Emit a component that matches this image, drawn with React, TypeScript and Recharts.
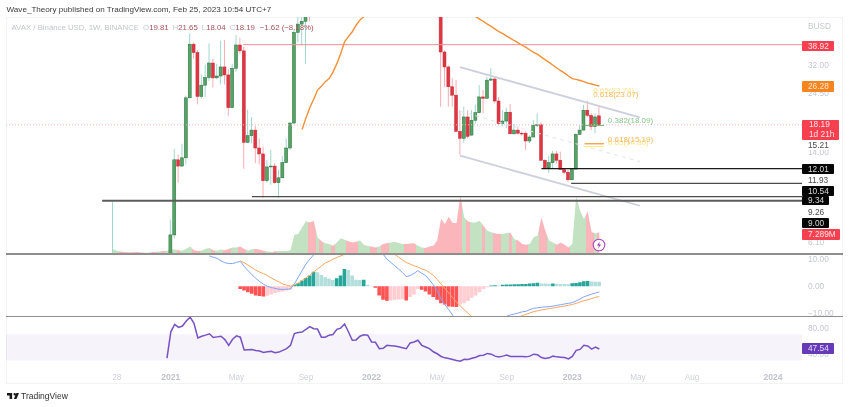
import {
  Area,
  Bar,
  Cell,
  ComposedChart,
  Line,
  ReferenceArea,
  ReferenceDot,
  ReferenceLine,
  XAxis,
  YAxis,
} from 'recharts';

// weekly candles, week 0 = Sep 21 2020, week 126 = Feb 20 2023
const opens = [
  3.9, 4.4, 4.6, 4.5, 4.2, 3.9, 3.6, 3.4, 3.3, 3.2,
  3.7, 3.6, 3.5, 4, 3.6, 3.6, 6.4, 13.05, 12.3, 13.3,
  23.5, 39.1, 36.1, 23.8, 26.5, 28.5, 32.7, 28.4, 28.9, 31.5,
  29.2, 21.4, 31.1, 38.8, 36.7, 15.4, 16.4, 17.3, 14.6, 13.8,
  10.7, 12.2, 12.3, 10.5, 11, 12.7, 14.6, 18.5, 43.7, 47.3,
  48.6, 62, 57, 55, 56, 54, 58, 62, 60, 66,
  72, 78, 74, 70, 66, 72, 80, 90, 85, 78,
  84, 76, 70, 74, 78, 84, 92, 84, 76, 70,
  75, 80, 77, 73, 70, 66, 36.3, 31.5, 26.1, 24.1,
  17.1, 16, 19.6, 16.5, 19, 20.4, 23.7, 23.4, 27.8, 28.1,
  22.8, 18.4, 18.85, 20.5, 16.7, 17.3, 16.8, 16.8, 15.6, 16.2,
  18.1, 18.2, 13, 12.1, 12.7, 13.8, 13, 11.9, 11.6, 10.8,
  11.95, 16.6, 17.3, 20.9, 19.9, 17.9, 19.81,
];
const highs = [
  8.75, 5, 5.1, 5, 4.6, 4.2, 3.9, 3.7, 3.6, 3.9,
  4.2, 3.9, 4.2, 4.5, 4, 7.4, 14.5, 13.7, 15.2, 24,
  43.3, 39.6, 37, 29.3, 32.2, 39.4, 34, 32.5, 40.4, 40.6,
  30.8, 32.5, 42.6, 41.5, 38.1, 21, 19.6, 18, 16, 14.8,
  13, 14.35, 12.65, 11.9, 13.5, 16, 18.6, 45, 55, 52,
  75, 70, 62, 60, 60, 63, 67, 66, 71, 78,
  84, 82, 78, 73, 76, 84, 95, 94, 88, 88,
  88, 80, 78, 82, 88, 98, 96, 88, 78, 80,
  85, 84, 80, 76, 72, 70, 36.9, 32, 28.3, 27.8,
  20.9, 21.6, 20.9, 20.9, 22, 26.5, 25.3, 28.7, 31.1, 28.7,
  23.7, 20.9, 21.4, 22.2, 18.4, 17.9, 17.1, 17.1, 16.5, 19,
  20.3, 18.6, 13.1, 13.5, 14.2, 14.2, 14.1, 12.1, 11.9, 12,
  16.8, 18.1, 22, 22.9, 20.3, 20.3, 21.65,
];
const lows = [
  3, 3.9, 4.1, 4, 3.6, 3.4, 3.2, 3.1, 3, 3,
  3.4, 3.2, 3.3, 3.5, 3.3, 3.4, 6.2, 10.5, 12.2, 12.5,
  23.4, 34, 22.1, 23.3, 23.7, 27.6, 25.9, 28.2, 26.7, 26.7,
  19.8, 21.4, 30, 35.7, 12, 15.3, 15.3, 12.65, 12.5, 9.1,
  10.5, 10.3, 10.4, 9.1, 11, 12.65, 14.35, 18.4, 39.8, 38.6,
  32.5, 48.6, 53, 52, 53, 53, 56, 57, 58, 64,
  70, 72, 68, 64, 64, 71, 78, 82, 76, 76,
  74, 68, 68, 72, 77, 82, 82, 74, 68, 68,
  74, 75, 71, 68, 60, 21.6, 26.1, 21.6, 21.6, 17,
  13.7, 15.3, 16, 16.4, 18.4, 20.3, 20.3, 23.3, 27.6, 22.3,
  18.2, 18, 17.6, 16.7, 16.6, 16.6, 16.4, 14.35, 15.3, 16.2,
  17.8, 12.95, 11.9, 11.5, 12.05, 12.6, 11.9, 11.4, 10.55, 10.75,
  11.9, 16.6, 17.3, 19.6, 17.3, 16.8, 18.04,
];
const closes = [
  4.4, 4.6, 4.5, 4.2, 3.9, 3.6, 3.4, 3.3, 3.2, 3.7,
  3.6, 3.5, 4, 3.6, 3.6, 6.4, 13.05, 12.3, 13.3, 23.5,
  39.1, 36.1, 23.8, 26.5, 28.5, 32.7, 28.4, 28.9, 31.5, 29.2,
  21.4, 31.1, 38.8, 36.7, 15.4, 16.4, 17.3, 14.6, 13.8, 10.7,
  12.2, 12.3, 10.5, 11, 12.7, 14.6, 18.5, 43.7, 47.3, 48.6,
  62, 57, 55, 56, 54, 58, 62, 60, 66, 72,
  78, 74, 70, 66, 72, 80, 90, 85, 78, 84,
  76, 70, 74, 78, 84, 92, 84, 76, 70, 75,
  80, 77, 73, 70, 66, 36.3, 31.5, 26.1, 24.1, 17.1,
  16, 19.6, 16.3, 19, 20.4, 23.7, 23.4, 27.8, 28.1, 22.8,
  18.4, 18.85, 20.5, 16.7, 17.3, 16.8, 16.7, 15.6, 16.2, 18.1,
  18.2, 13, 12.1, 12.7, 13.8, 13, 11.9, 11.6, 10.8, 11.95,
  16.6, 17.3, 20.9, 19.9, 17.9, 19.6, 18.19,
];
// volume in millions
const volumes = [
  1.7, 1.1, 0.8, 0.7, 0.6, 0.6, 0.7, 0.6, 0.45, 0.45,
  0.6, 0.7, 0.8, 1, 1.1, 1.6, 1.5, 1.3, 1.1, 1.8,
  2.5, 1.3, 1, 1.2, 1.8, 2, 1.3, 1.1, 1.5, 1.3,
  1.7, 2.2, 2.2, 2.5, 1.7, 1.2, 1.6, 1.7, 1.5, 1.1,
  0.8, 0.7, 0.8, 1, 1, 1, 1.3, 6.5, 6.7, 9,
  11, 10.6, 11.2, 5.6, 4.3, 3.6, 3.4, 2.8, 3.9, 5.3,
  4.8, 4.3, 3.9, 4.1, 4.5, 3.1, 2.7, 2.5, 2.2, 2.5,
  3.4, 3.7, 3.9, 4.1, 3.7, 3.4, 3.4, 3.5, 3.6, 2.8,
  2.2, 2, 2.5, 2.8, 4.5, 11.8, 10.1, 12.5, 10.4, 10.4,
  19.6, 12.3, 10.9, 10.6, 10.6, 11.2, 9.5, 7.8, 7.3, 6.9,
  6.7, 6.7, 7.1, 7.1, 5, 4.5, 3.4, 3.1, 3.4, 5.6,
  6.2, 12.3, 7.8, 4.5, 3.9, 3.1, 3.9, 3.1, 2.2, 3.4,
  19.3, 14.6, 11.8, 14.3, 7.3, 6.9, 7.289,
];

const emaStart = 49;
const ema = [
  17.4, 19.4, 21.4, 23.2, 25.3, 26.2, 27.4, 28.2, 30, 32.5,
  35.7, 40, 42, 44, 46.8, 49.2, 50.8, 53, 55, 57,
  58.5, 60, 61, 62, 63, 64, 65, 65.5, 66, 66,
  66, 65.5, 65, 64.5, 64, 63.5, 63, 62, 61, 60,
  59, 58, 56, 54, 52.5, 50.8, 49.6, 48.5, 47.3, 46.3,
  45.1, 44, 43.2, 42.2, 41.3, 40.4, 39.6, 38.7, 37.9, 37,
  36.2, 35.5, 34.6, 33.7, 32.9, 32, 31.2, 30.4, 29.7, 28.9,
  28.2, 28, 27.7, 27.4, 27, 26.8, 26.5, 26.28,
];

const macdStart = 25;
const macdLine = [
  11.1, 10.6, 10.2, 9.3, 8.6, 8.3, 8.3, 8.7, 9.1, 7.3,
  5.7, 4.2, 2.9, 1.7, 0.7, 0, -0.5, -0.8, -1.1, -1.2,
  -1.1, -1, 0.8, 3.3, 5.7, 8.1, 9.9, 11.5, 13.2, 14.8,
  16.6, 17.8, 19, 20.2, 21.4, 22, 22.6, 22.6, 22, 21.4,
  20.2, 19, 17.8, 16, 14.2, 11.7, 9.9, 8.7, 7.5, 6.3,
  5, 3.5, 3.9, 4.7, 5.7, 4.7, 3.9, 2.3, 0.5, -1.6,
  -4.7, -6.8, -8.6, -10.6, -12.7, -14.3, -16.1, -17.5, -18.5, -19.1,
  -19.1, -18.5, -17.3, -16.1, -14.9, -12.7, -11.9, -11, -10.5, -10.2,
  -9.8, -9.4, -9.2, -8.6, -8.1, -7.9, -7.7, -7.6, -7.5, -7.3,
  -7, -6.8, -6.5, -6.3, -6, -5.4, -4.7, -3.9, -3.4, -2.9,
  -2.5, -2.1,
];
const signalStart = 33;
const signalLine = [
  9.3, 8.6, 7.7, 6.8, 5.9, 5.2, 4.6, 3.9, 3, 2.3,
  1.6, 0.8, 0.4, 0, 0.5, 1.2, 2.1, 3, 4, 5.2,
  6.3, 7.4, 8.5, 9.1, 9.9, 10.5, 11.1, 11.7, 12.3, 12.9,
  13.6, 14.2, 14.4, 14.8, 14.8, 14.4, 14.2, 13.6, 12.9, 12.3,
  11.7, 10.6, 9.6, 8.7, 8.1, 7.5, 7, 6.3, 5.9, 5,
  4, 2.5, 0.8, -0.8, -2.5, -4.2, -5.8, -7.3, -8.6, -9.9,
  -11.3, -12.5, -13.4, -14.3, -14.6, -14.9, -14.9, -14.6, -14.3, -13.7,
  -12.8, -12.1, -11.4, -10.8, -10.3, -9.8, -9.3, -9, -8.7, -8.5,
  -8.2, -8, -7.7, -7.5, -7.3, -7, -6.7, -6.3, -5.8, -5.3,
  -5, -4.5, -4.1, -3.8,
];
const histStart = 33;
const macdHist = [
  -1, -1.6, -2.2, -2.8, -3.4, -3.6, -3.75, -3.5, -3, -2.5,
  -2.2, -1.9, -1.6, -1.2, 0.5, 1.1, 2.1, 3, 3.9, 5.3,
  5.1, 4.1, 3.3, 2.8, 2.3, 2.9, 3.9, 6.3, 5.9, 3.9,
  2.4, 2.3, 2.4, 0.5, 0.1, -0.6, -3.4, -5, -5.3, -5.2,
  -5, -4.9, -4.8, -5.2, -4, -3, -0.9, -1.3, -1.9, -3,
  -4, -5, -6.2, -6.7, -7.4, -7.5, -7.6, -6.7, -6.2, -5.4,
  -4.2, -3.4, -2.2, -1, -0.4, 0.25, 0.35, 0.3, 0.5, 0.6,
  0.65, 0.7, 0.75, 0.8, 0.85, 1, 1.1, 1.3, 1, 0.95,
  0.9, 0.95, 0.9, 0.85, 0.8, 0.7, 1.1, 1.2, 1.45, 1.8,
  1.9, 1.7, 1.65, 1.6,
];

const rsiStart = 14;
const rsi = [
  33.6, 73.6, 84.9, 80.3, 82.3, 90, 95.7, 86.4, 64.4, 66.9,
  68.5, 70.5, 64.9, 65.9, 66.9, 61.8, 53.1, 62.3, 67.4, 65.4,
  45.9, 46.4, 46.9, 45.4, 44.4, 42.3, 43.3, 43.9, 41.8, 42.8,
  45.4, 48, 53.1, 71, 72.6, 73.1, 77.2, 81.3, 78.2, 77.7,
  65.4, 65.4, 68.5, 69.5, 77.2, 79.2, 85.4, 73.6, 60.8, 61.3,
  66.9, 69, 68.5, 58.2, 57.7, 48, 48.5, 53.1, 52.6, 52.1,
  51, 49.5, 48, 56.7, 58.2, 60.8, 53.1, 50.5, 48, 43.3,
  40.3, 36.2, 34.1, 33.1, 31.5, 30, 29, 32, 31.5, 33.6,
  35.1, 37.7, 38.2, 40.8, 39.7, 36.7, 35.6, 36.7, 38.2, 36.2,
  36.2, 36.2, 36.2, 35.6, 36.7, 39.7, 38.7, 34.6, 33.1, 34.1,
  36.7, 35.6, 35.1, 34.6, 32.6, 36.2, 45.4, 46.9, 53.1, 52.1,
  47.4, 50.5, 47.54,
];

// time axis
const timeTicks = [1, 15, 32, 50, 67, 84, 102, 119, 136, 150, 171];
const timeLabels = ['28', '2021', 'May', 'Sep', '2022', 'May', 'Sep', '2023', 'May', 'Aug', '2024'];

// price axis ticks
const priceTicks = [32, 24.5, 14];
const macdTicks = [10, 0, -10];
const rsiTicks = [80, 40];

// drawn levels: [week from, week to, price]
const levels = [
  { from: 33.7, to: 178.5, price: 38.92, color: '#f88f96', width: 1 },
  { from: 111, to: 178.5, price: 12.01, color: '#1a1a1a', width: 1.3 },
  { from: 118.7, to: 178.5, price: 10.44, color: '#4a4a4a', width: 1.2 },
  { from: 36, to: 178.5, price: 9.2, color: '#4a4a4a', width: 1.2 },
  { from: -2.8, to: 178.5, price: 8.85, color: '#5c5c5c', width: 1.8 },
  { from: 122.2, to: 127.2, price: 18.09, color: '#66bb6a', width: 1 },
  { from: 122.2, to: 127.2, price: 15.19, color: '#f57c00', width: 1 },
  { from: 122.2, to: 127.2, price: 14.8, color: '#ffeb7a', width: 1 },
];
// channel trend lines
const channel = [
  { x1: 89.9, p1: 31.43, x2: 136.5, p2: 19.51, color: '#cdcfdc', width: 1.8, dash: undefined },
  { x1: 89.9, p1: 13.58, x2: 136.5, p2: 8.44, color: '#cdcfdc', width: 1.8, dash: undefined },
  { x1: 89.9, p1: 20.66, x2: 136.5, p2: 12.83, color: '#e4e5ec', width: 1, dash: '4 4' },
];
const fibLabels = [
  { text: '0.65(23.74)', week: 124.4, price: 25.3, color: '#ffe48a' },
  { text: '0.618(23.07)', week: 124.4, price: 24.3, color: '#f9b85c' },
  { text: '0.382(18.09)', week: 128.2, price: 19, color: '#86c98a' },
  { text: '0.65(14.80)', week: 128.2, price: 15.4, color: '#ffe48a' },
  { text: '0.618(15.19)', week: 128.2, price: 15.95, color: '#f9b85c' },
];

const PLOT_X0 = -27.7;
const PLOT_X1 = 178.5;
const FONT = '"Liberation Sans", Arial, sans-serif';
const UP_VOL = '#c3e2c2';
const DOWN_VOL = '#fbb6bb';
const LEGEND_RED = '#a8505a';
const LEGEND_GREY = '#c2c4ce';

const rows = opens.map((o, i) => ({
  i,
  o,
  h: highs[i],
  l: lows[i],
  c: closes[i],
  vol: volumes[i],
  ema: ema[i - emaStart] ?? null,
  macd: macdLine[i - macdStart] ?? null,
  signal: signalLine[i - signalStart] ?? null,
  hist: macdHist[i - histStart] ?? null,
  rsi: rsi[i - rsiStart] ?? null,
}));

function Candle(props: any) {
  const { x, y, width, height, payload } = props;
  const { o, h, l, c } = payload;
  // the bar spans low..high on a log axis, so open and close are found along it
  const at = (v: number) => y + (height * Math.log(h / v)) / Math.log(h / l);
  const cx = x + width / 2;
  const up = c >= o;
  const top = at(Math.max(o, c));
  const bottom = at(Math.min(o, c));
  return (
    <g>
      <line x1={cx} x2={cx} y1={y} y2={y + height} stroke={up ? '#9fd8cd' : '#f9adb2'} strokeWidth={1} />
      <rect
        x={x}
        y={top}
        width={width}
        height={Math.max(bottom - top, 0.8)}
        fill={up ? '#54a565' : '#e23541'}
        stroke={up ? '#2b6b3a' : '#b9303b'}
        strokeWidth={0.5}
      />
    </g>
  );
}

function histColor(i: number) {
  const v = macdHist[i];
  const prev = i > 0 ? macdHist[i - 1] : 0;
  if (v >= 0) return v > prev ? '#26a69a' : '#b2dfdb';
  return v < prev ? '#ff5252' : '#ffcdd2';
}

function TimeTick({ x, y, payload }: any) {
  const label = timeLabels[timeTicks.indexOf(payload.value)];
  const isYear = label.length === 4;
  return (
    <text
      x={x}
      y={y + 5}
      textAnchor="middle"
      fontFamily={FONT}
      fontSize={isYear ? 8.6 : 8.2}
      fontWeight={isYear ? 700 : 400}
      fill={isYear ? '#c0c2cc' : '#cfd1d9'}
    >
      {label}
    </text>
  );
}

const axisTick = { fontSize: 8.3, fill: '#c6c8d1', fontFamily: FONT };
const fmt2 = (v: number) => v.toFixed(2).replace('-', '\u2212');
const chartMargin = { top: 0, right: 7, left: 6, bottom: 0 };

function MainPane() {
  const stops = rows.flatMap((r) => {
    const color = r.c >= r.o ? UP_VOL : DOWN_VOL;
    return [
      <stop key={`a${r.i}`} offset={Math.max(r.i - 0.5, 0) / 126} stopColor={color} />,
      <stop key={`b${r.i}`} offset={Math.min(r.i + 0.5, 126) / 126} stopColor={color} />,
    ];
  });
  return (
    <ComposedChart width={850} height={237} data={rows} margin={chartMargin}>
      <defs>
        <linearGradient id="volFill" x1="0" x2="1" y1="0" y2="0">
          {stops}
        </linearGradient>
      </defs>
      <XAxis type="number" dataKey="i" domain={[PLOT_X0, PLOT_X1]} hide />
      <YAxis
        yAxisId="price"
        orientation="right"
        scale="log"
        type="number"
        domain={[5.34, 50.6]}
        allowDataOverflow
        ticks={priceTicks}
        interval={0}
        width={41}
        axisLine={false}
        tickLine={false}
        tickSize={0}
        tickMargin={6}
        tick={axisTick}
        tickFormatter={fmt2}
      />
      <YAxis yAxisId="vol" orientation="left" domain={[0, 79.7]} hide />
      <Area
        yAxisId="vol"
        type="linear"
        dataKey="vol"
        stroke="none"
        fill="url(#volFill)"
        fillOpacity={1}
        dot={false}
        activeDot={false}
        isAnimationActive={false}
      />
      <ReferenceLine yAxisId="price" y={18.19} stroke="#f9b4b8" strokeDasharray="1 2" />
      {channel.map((t) => (
        <ReferenceLine
          key={`${t.x1}-${t.p1}`}
          yAxisId="price"
          segment={[
            { x: t.x1, y: t.p1 },
            { x: t.x2, y: t.p2 },
          ]}
          stroke={t.color}
          strokeWidth={t.width}
          strokeDasharray={t.dash}
        />
      ))}
      {levels.map((l) => (
        <ReferenceLine
          key={`${l.from}-${l.price}`}
          yAxisId="price"
          segment={[
            { x: l.from, y: l.price },
            { x: l.to, y: l.price },
          ]}
          stroke={l.color}
          strokeWidth={l.width}
        />
      ))}
      <Bar
        yAxisId="price"
        dataKey={(d: any) => [d.l, d.h]}
        barSize={3}
        shape={Candle}
        isAnimationActive={false}
      />
      <Line
        yAxisId="price"
        type="linear"
        dataKey="ema"
        stroke="#f58f35"
        strokeWidth={1.4}
        dot={false}
        activeDot={false}
        isAnimationActive={false}
      />
      {fibLabels.map((f) => (
        <ReferenceDot
          key={f.text}
          yAxisId="price"
          x={f.week}
          y={f.price}
          r={0}
          fill="none"
          stroke="none"
          label={{ value: f.text, position: 'right', offset: 0, fill: f.color, fontSize: 8, fontFamily: FONT }}
        />
      ))}
    </ComposedChart>
  );
}

function MacdPane() {
  return (
    <ComposedChart width={850} height={62.5} data={rows} margin={chartMargin}>
      <XAxis type="number" dataKey="i" domain={[PLOT_X0, PLOT_X1]} hide />
      <YAxis
        orientation="right"
        type="number"
        domain={[-11.1, 11.8]}
        allowDataOverflow
        ticks={macdTicks}
        interval={0}
        width={41}
        axisLine={false}
        tickLine={false}
        tickSize={0}
        tickMargin={6}
        tick={axisTick}
        tickFormatter={fmt2}
      />
      <Bar dataKey="hist" barSize={3.6} isAnimationActive={false}>
        {rows.map((r) => (
          <Cell key={r.i} fill={r.hist === null ? 'none' : histColor(r.i - histStart)} />
        ))}
      </Bar>
      <Line type="linear" dataKey="macd" stroke="#7fa5f7" strokeWidth={1} dot={false} activeDot={false} isAnimationActive={false} />
      <Line type="linear" dataKey="signal" stroke="#f9a660" strokeWidth={1} dot={false} activeDot={false} isAnimationActive={false} />
    </ComposedChart>
  );
}

function RsiPane() {
  return (
    <ComposedChart width={850} height={67.5} data={rows} margin={chartMargin}>
      <XAxis
        type="number"
        dataKey="i"
        domain={[PLOT_X0, PLOT_X1]}
        ticks={timeTicks}
        interval={0}
        height={18}
        axisLine={false}
        tickLine={false}
        tick={TimeTick}
      />
      <YAxis
        orientation="right"
        type="number"
        domain={[21, 96]}
        ticks={rsiTicks}
        interval={0}
        width={41}
        axisLine={false}
        tickLine={false}
        tickSize={0}
        tickMargin={6}
        tick={axisTick}
        tickFormatter={fmt2}
      />
      <ReferenceArea y1={30} y2={70} fill="#7e57c2" fillOpacity={0.07} stroke="none" />
      <Line type="linear" dataKey="rsi" stroke="#7652c4" strokeWidth={1.5} dot={false} activeDot={false} isAnimationActive={false} />
    </ComposedChart>
  );
}

// value tags on the price scale, stacked by hand like the original
const tags = [
  { text: '38.92', top: 40.5, height: 10, right: 834, bg: '#f7404f', color: '#ffe3e5' },
  { text: '26.28', top: 81, height: 10.5, right: 834, bg: '#f6851f', color: '#ffe6cf' },
  { text: '15.21', top: 140, height: 10, right: 834, bg: '#fff', color: '#4b4b4b' },
  { text: '12.01', top: 164.3, height: 10.2, right: 834, bg: '#050505', color: '#d8d8d8' },
  { text: '11.93', top: 175.5, height: 9.5, right: 834, bg: '#fff', color: '#4b4b4b' },
  { text: '10.54', top: 185.6, height: 10.4, right: 834, bg: '#050505', color: '#d8d8d8' },
  { text: '9.34', top: 196, height: 9.4, right: 829, bg: '#050505', color: '#d8d8d8' },
  { text: '9.26', top: 207, height: 10, right: 829, bg: '#fff', color: '#4b4b4b' },
  { text: '9.00', top: 218, height: 10, right: 829, bg: '#050505', color: '#d8d8d8' },
  { text: '6.10', top: 237, height: 10, right: 829, bg: 'transparent', color: '#c6c8d1' },
  { text: '7.289M', top: 229, height: 10.5, right: 840, bg: '#f7404f', color: '#ffe3e5' },
  { text: '47.54', top: 343, height: 10.5, right: 834, bg: '#673ab7', color: '#e6dcf7' },
];

function PriceTag({ text, top, height, right, bg, color }: (typeof tags)[number]) {
  return (
    <div
      style={{
        position: 'absolute',
        left: 802,
        top,
        width: right - 802,
        height,
        background: bg,
        color,
        fontSize: 8.3,
        lineHeight: `${height}px`,
        paddingLeft: 6,
        boxSizing: 'border-box',
        borderRadius: 1,
        whiteSpace: 'nowrap',
      }}
    >
      {text}
    </div>
  );
}

export default function App() {
  return (
    <div
      style={{
        position: 'absolute',
        left: 0,
        top: 0,
        width: 850,
        height: 407,
        background: '#fff',
        fontFamily: FONT,
        overflow: 'hidden',
        filter: 'blur(0.35px)',
      }}
    >
      <style>{'.recharts-surface{overflow:visible}'}</style>
      <div style={{ position: 'absolute', left: 6.5, top: 5, fontSize: 8.1, color: '#3a3a3a', whiteSpace: 'nowrap' }}>
        Wave_Theory published on TradingView.com, Feb 25, 2023 10:54 UTC+7
      </div>

      <div style={{ position: 'absolute', left: 6, top: 17, width: 837, height: 367, border: '1px solid #f3f3f5', boxSizing: 'border-box' }} />
      <div style={{ position: 'absolute', left: 0, top: 17 }}>
        <MainPane />
      </div>
      <div style={{ position: 'absolute', left: 0, top: 254 }}>
        <MacdPane />
      </div>
      <div style={{ position: 'absolute', left: 0, top: 316.5 }}>
        <RsiPane />
      </div>
      <div style={{ position: 'absolute', left: 6, top: 253.3, width: 837, height: 1.3, background: '#8e8e8e' }} />
      <div style={{ position: 'absolute', left: 6, top: 316, width: 837, height: 1.3, background: '#8e8e8e' }} />

      <div style={{ position: 'absolute', left: 11.5, top: 22.5, fontSize: 7.8, color: LEGEND_GREY, whiteSpace: 'nowrap' }}>
        AVAX / Binance USD, 1W, BINANCE
        <span style={{ marginLeft: 4 }}>O</span>
        <span style={{ color: LEGEND_RED }}>19.81</span>
        <span style={{ marginLeft: 4 }}>H</span>
        <span style={{ color: LEGEND_RED }}>21.65</span>
        <span style={{ marginLeft: 4 }}>L</span>
        <span style={{ color: LEGEND_RED }}>18.04</span>
        <span style={{ marginLeft: 4 }}>C</span>
        <span style={{ color: LEGEND_RED }}>18.19</span>
        <span style={{ marginLeft: 5, color: LEGEND_RED }}>{'\u22121.62 (\u22128.18%)'}</span>
      </div>

      <div style={{ position: 'absolute', left: 808, top: 21, fontSize: 8.3, color: '#c6c8d1' }}>BUSD</div>
      {tags.map((t) => (
        <PriceTag key={t.text} {...t} />
      ))}
      <div
        style={{
          position: 'absolute',
          left: 802,
          top: 120,
          width: 37,
          height: 19.5,
          background: '#f7404f',
          color: '#ffe3e5',
          fontSize: 8.3,
          lineHeight: '9.6px',
          paddingLeft: 7,
          boxSizing: 'border-box',
          borderRadius: 1,
          whiteSpace: 'nowrap',
        }}
      >
        18.19
        <br />
        1d 21h
      </div>

      <svg style={{ position: 'absolute', left: 592, top: 238 }} width={14} height={14} viewBox="0 0 14 14">
        <circle cx={7} cy={7} r={5.8} fill="#fff" stroke="#ab47bc" strokeWidth={1.1} />
        <path d="M7.8 3.4 5 7.6h1.9L6.2 10.6 9 6.4H7.1z" fill="#8e3fa8" />
      </svg>

      <svg style={{ position: 'absolute', left: 6.5, top: 392.5 }} width={12} height={6} viewBox="0 0 14 7">
        <path d="M0 0h6v7H3V3H0zM9 0a1.4 1.4 0 1 1 0 2.8A1.4 1.4 0 0 1 9 0zM11 0h3l-3 7H8z" fill="#1a1a1a" />
      </svg>
      <div style={{ position: 'absolute', left: 21, top: 391, fontSize: 8.5, color: '#2f2f2f' }}>TradingView</div>
    </div>
  );
}
